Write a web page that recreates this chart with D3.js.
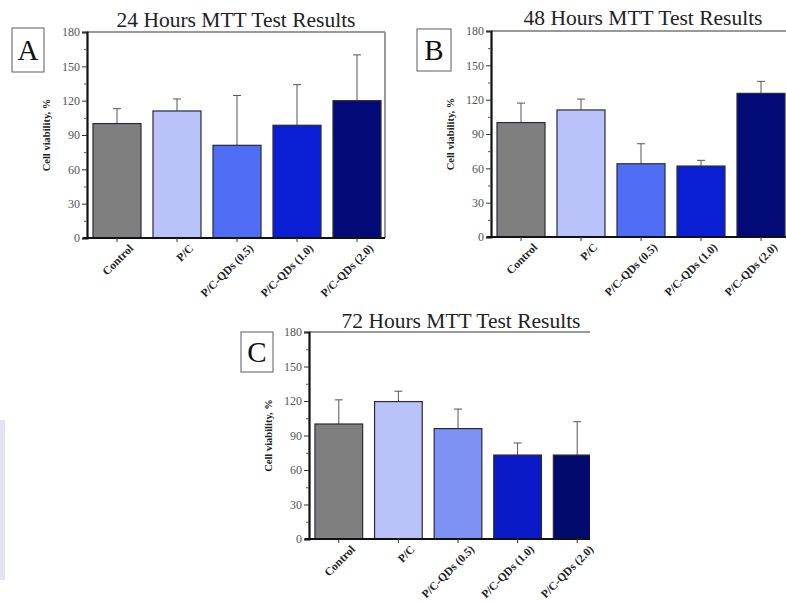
<!DOCTYPE html>
<html><head><meta charset="utf-8">
<script src="https://cdn.jsdelivr.net/npm/d3@7"></script>
<style>body{margin:0;background:#fff}svg{display:block}</style>
</head><body>
<svg id="c" width="786" height="602"></svg>
<script>
const categories = ["Control","P/C","P/C-QDs (0.5)","P/C-QDs (1.0)","P/C-QDs (2.0)"];
const yTicks = [0,30,60,90,120,150,180];
const titles = ["24 Hours MTT Test Results","48 Hours MTT Test Results","72 Hours MTT Test Results"];
const letters = ["A","B","C"];
const means24 = [100, 111, 81, 98.5, 120];
const sd24    = [13, 10.5, 43.5, 35.5, 40];
const means48 = [100, 111, 64, 62, 125.5];
const sd48    = [17, 9.5, 17.5, 5, 10.5];
const means72 = [100, 119.5, 96, 73, 73];
const sd72    = [21, 9, 17, 10.5, 29];
const colorsAB = ["#7f7f7f","#b9c3f9","#4f6ef5","#0a1fd4","#020a78"];
const colorsC  = ["#7f7f7f","#b9c3f9","#7d92f2","#0a1ac8","#020a6e"];

const panels = [
  {means:means24, sd:sd24, colors:colorsAB, L:87, R:387, clipR:385, T:32, B:238, rightBorder:true,
   titleX:236, titleY:27, box:[12,28,32,44], ylabX:50},
  {means:means48, sd:sd48, colors:colorsAB, L:491, R:791, clipR:786, T:31, B:237, rightBorder:false,
   titleX:643, titleY:25, box:[417,29,34,42], ylabX:454},
  {means:means72, sd:sd72, colors:colorsC, L:309, R:607, clipR:590, T:332, B:539, rightBorder:false,
   titleX:461, titleY:328, box:[241,332,32,40], ylabX:272}
];

const svg = d3.select("#c");
const font = "'Liberation Serif','Times New Roman',serif";

// faint decorative strip at left edge
svg.append("rect").attr("x",0).attr("y",420).attr("width",5).attr("height",160).attr("fill","#e2e2f2");

panels.forEach((p,i)=>{
  const g = svg.append("g");
  const x = d3.scaleBand().domain(categories).range([p.L,p.R]).paddingInner(0.2).paddingOuter(0.1);
  const y = d3.scaleLinear().domain([0,180]).range([p.B,p.T]);
  const cid = "clip"+i;
  svg.append("clipPath").attr("id",cid).append("rect")
    .attr("x",p.L).attr("y",p.T-30).attr("width",p.clipR-p.L).attr("height",p.B-p.T+40);
  const plot = g.append("g").attr("clip-path",`url(#${cid})`);

  // frame top / right
  plot.append("line").attr("x1",p.L).attr("x2",p.clipR).attr("y1",p.T).attr("y2",p.T)
    .attr("stroke","#777").attr("stroke-width",1.5);
  if(p.rightBorder){
    g.append("line").attr("x1",p.clipR).attr("x2",p.clipR).attr("y1",p.T).attr("y2",p.B)
      .attr("stroke","#999").attr("stroke-width",2);
  }

  // error bars
  const eb = plot.selectAll("g.eb").data(categories).join("g");
  eb.append("line")
    .attr("x1",d=>x(d)+x.bandwidth()/2).attr("x2",d=>x(d)+x.bandwidth()/2)
    .attr("y1",(d,j)=>y(p.means[j])).attr("y2",(d,j)=>y(p.means[j]+p.sd[j]))
    .attr("stroke","#555").attr("stroke-width",1);
  eb.append("line")
    .attr("x1",d=>x(d)+x.bandwidth()/2-4).attr("x2",d=>x(d)+x.bandwidth()/2+4)
    .attr("y1",(d,j)=>y(p.means[j]+p.sd[j])).attr("y2",(d,j)=>y(p.means[j]+p.sd[j]))
    .attr("stroke","#555").attr("stroke-width",1);

  // bars
  plot.selectAll("rect.bar").data(categories).join("rect")
    .attr("x",d=>x(d)).attr("width",x.bandwidth())
    .attr("y",(d,j)=>y(p.means[j])).attr("height",(d,j)=>p.B-y(p.means[j]))
    .attr("fill",(d,j)=>p.colors[j]).attr("stroke","#2a2a3a").attr("stroke-width",1.2);

  // y axis
  const ya = g.append("g").attr("transform",`translate(${p.L},0)`)
    .call(d3.axisLeft(y).tickValues(yTicks).tickSize(5).tickPadding(2));
  ya.attr("font-size",12).attr("font-family",font);
  ya.select(".domain").attr("stroke","#111").attr("stroke-width",2.2);
  ya.selectAll(".tick line").attr("stroke","#333");
  ya.selectAll(".tick text").attr("font-family",font).style("font-size","12px").attr("fill","#555");
  // minor ticks
  g.append("g").attr("transform",`translate(${p.L},0)`)
    .call(d3.axisLeft(y).tickValues(d3.range(15,180,30)).tickSize(3).tickFormat(""))
    .call(s=>s.select(".domain").remove())
    .selectAll("line").attr("stroke","#555");

  // x axis
  const xa = g.append("g").attr("transform",`translate(0,${p.B})`)
    .call(d3.axisBottom(x).tickSize(4).tickSizeOuter(0));
  xa.select(".domain").attr("stroke","#111").attr("stroke-width",2.2)
    .attr("d",`M${p.L-4},0H${p.clipR}`);
  xa.selectAll(".tick line").attr("stroke","#333");
  xa.selectAll("text").attr("font-family",font).attr("font-size",11.5).attr("font-weight","bold")
    .attr("fill","#222").attr("text-anchor","end")
    .attr("transform","translate(10,4) rotate(-45)").attr("dy","0.35em").attr("y",6).attr("x",0);

  // y label
  g.append("text").attr("transform",`translate(${p.ylabX},${(p.T+p.B)/2}) rotate(-90)`)
    .attr("text-anchor","middle").attr("font-family",font).attr("font-size",10.5)
    .attr("font-weight","bold").attr("fill","#222").text("Cell viability, %");

  // title
  g.append("text").attr("x",p.titleX).attr("y",p.titleY).attr("text-anchor","middle")
    .attr("font-family",font).attr("font-size",21.5).attr("fill","#222").text(titles[i]);

  // letter box
  const [bx,by,bw,bh] = p.box;
  g.append("rect").attr("x",bx).attr("y",by).attr("width",bw).attr("height",bh)
    .attr("fill","#fff").attr("stroke","#777").attr("stroke-width",1.2);
  g.append("text").attr("x",bx+bw/2).attr("y",by+bh/2+10).attr("text-anchor","middle")
    .attr("font-family",font).attr("font-size",29).attr("fill","#111").text(letters[i]);
});
</script>
</body></html>
